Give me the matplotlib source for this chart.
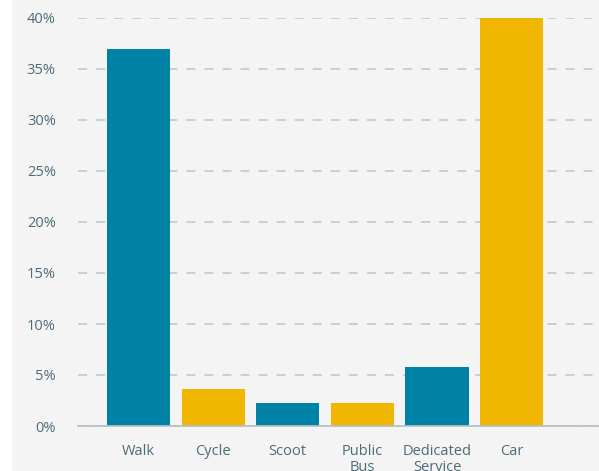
import matplotlib.pyplot as plt
from matplotlib.patches import Rectangle

# data
modes = ["Walk", "Cycle", "Scoot", "Public\nBus", "Dedicated\nService", "Car"]
share = [37.0, 3.6, 2.3, 2.3, 5.8, 40.0]
colors = ["#0082A6", "#F1B700", "#0082A6", "#F1B700", "#0082A6", "#F1B700"]
yticks = [0, 5, 10, 15, 20, 25, 30, 35, 40]

plt.rcParams['font.family'] = ['Open Sans', 'DejaVu Sans']

fig = plt.figure(figsize=(5.99, 4.71), dpi=100)
fig.patches.append(Rectangle((12/599, 0), 1, 1, transform=fig.transFigure,
                             facecolor="#F4F4F4", edgecolor="none", zorder=-5))

ax = fig.add_axes([78/599, 1-426/471, 521/599, 408/471])
ax.set_zorder(2)
ax.patch.set_alpha(0)

x = range(len(modes))
ax.bar(x, share, width=0.845, color=colors, zorder=3)

ax.set_xlim(-0.81, 6.17)
ax.set_ylim(0, 40)
ax.set_yticks(yticks)
ax.set_yticklabels([f"{v}%" for v in yticks])
ax.set_xticks(list(x))
ax.set_xticklabels(modes, linespacing=1.05, va="top")

ax.grid(axis="y", color="#C3CED2", linestyle=(0, (5, 5)), linewidth=1.3, zorder=1)
ax.tick_params(length=0, colors="#4E6B78", labelsize=10.5)
ax.tick_params(axis="y", pad=16)
ax.tick_params(axis="x", pad=13)
for s in ["top", "right", "left"]:
    ax.spines[s].set_visible(False)
ax.spines["bottom"].set_color("#B4C2C6")
ax.spines["bottom"].set_linewidth(1.3)
ax.spines["bottom"].set_zorder(4)

plt.savefig("out.png", dpi=100)
